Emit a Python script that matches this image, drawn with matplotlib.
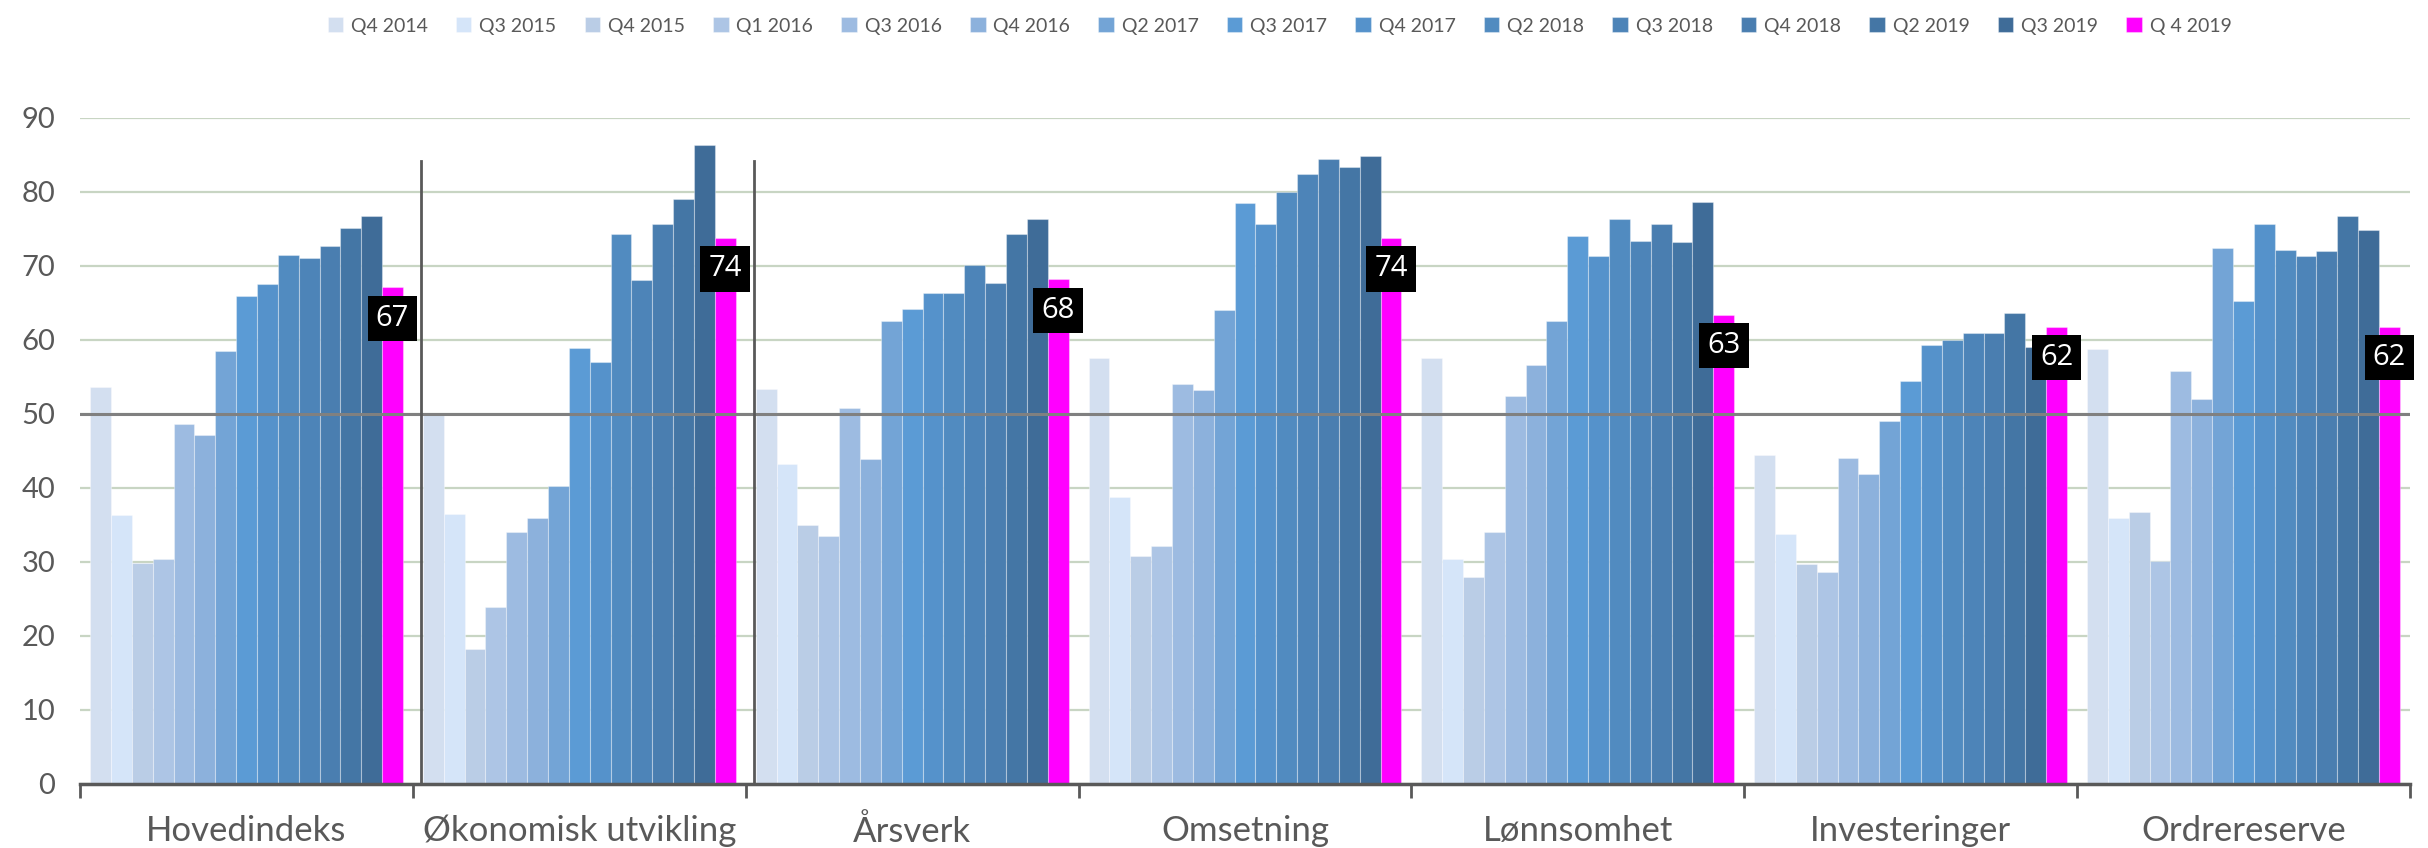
import numpy as np
import matplotlib.pyplot as plt

categories = ['Hovedindeks', 'Økonomisk utvikling', 'Årsverk', 'Omsetning',
              'Lønnsomhet', 'Investeringer', 'Ordrereserve']
periods = ['Q4 2014', 'Q3 2015', 'Q4 2015', 'Q1 2016', 'Q3 2016', 'Q4 2016', 'Q2 2017',
           'Q3 2017', 'Q4 2017', 'Q2 2018', 'Q3 2018', 'Q4 2018', 'Q2 2019', 'Q3 2019',
           'Q 4 2019']

# verdier per kategori, en per periode
hovedindeks = [53.6, 36.4, 29.9, 30.4, 48.6, 47.2, 58.5, 65.9, 67.6, 71.5, 71.0, 72.7, 75.1, 76.7, 67.1]
okonomisk = [49.9, 36.5, 18.3, 23.9, 34.1, 36.0, 40.2, 58.9, 57.0, 74.3, 68.1, 75.7, 79.1, 86.3, 73.8]
arsverk = [53.4, 43.2, 35.0, 33.5, 50.8, 43.9, 62.6, 64.2, 66.4, 66.4, 70.1, 67.7, 74.3, 76.4, 68.2]
omsetning = [57.5, 38.8, 30.8, 32.1, 54.1, 53.2, 64.1, 78.5, 75.7, 80.0, 82.4, 84.5, 83.3, 84.8, 73.8]
lonnsomhet = [57.5, 30.4, 27.9, 34.1, 52.4, 56.6, 62.6, 74.1, 71.4, 76.4, 73.4, 75.7, 73.2, 78.7, 63.4]
investeringer = [44.4, 33.8, 29.7, 28.6, 44.1, 41.9, 49.1, 54.4, 59.3, 60.0, 61.0, 61.0, 63.6, 59.0, 61.8]
ordrereserve = [58.8, 36.0, 36.8, 30.1, 55.8, 52.0, 72.4, 65.2, 75.7, 72.1, 71.4, 72.0, 76.7, 74.9, 61.8]

colors = ['#d3dff0', '#d5e5f9', '#bacde6', '#adc5e5', '#9dbbe1', '#8cb1dc', '#73a4d6',
          '#5b9bd5', '#5592cb', '#518bc0', '#4d84b8', '#4a7eb0', '#4476a5', '#3f6c98',
          '#ff00ff']

data = np.array([hovedindeks, okonomisk, arsverk, omsetning, lonnsomhet, investeringer, ordrereserve])

fig = plt.figure(figsize=(24.28, 8.48), dpi=100)
ax = fig.add_axes([0.033, 0.0755, 0.9595, 0.7855])

x = np.arange(len(categories))
n = len(periods)
w = 0.94 / n
for i in range(n):
    pos = x - 0.47 + w * (i + 0.5)
    ax.bar(pos, data[:, i], width=w, color=colors[i], label=periods[i],
           edgecolor=(1, 1, 1, 0.35), linewidth=0.8, zorder=2)
    if i == n - 1:
        for xp, v in zip(pos, data[:, i]):
            ax.text(xp, v - 4.2, str(int(round(v))), ha='center', va='center',
                    color='white', fontsize=21, family='Open Sans', zorder=5,
                    bbox=dict(boxstyle='square,pad=0.28', fc='black', ec='none'))

ax.set_ylim(0, 90)
ax.set_xlim(-0.5, len(categories) - 0.5)
ax.set_yticks(range(0, 91, 10))
ax.yaxis.grid(True, color='#c8d5c3', linewidth=1.6, zorder=0)
ax.axhline(50, color='#808080', linewidth=2.2, zorder=4)

# skillelinjer
for b in [0.525, 1.525]:
    ax.plot([b, b], [0, 84.2], color='#595959', linewidth=2, zorder=4)

ax.set_xticks(np.arange(-0.5, len(categories)), labels=[])
ax.set_xticks(x, minor=True)
ax.set_xticklabels(categories, minor=True, fontsize=25, family='Lato', color='#595959')
ax.tick_params(axis='x', which='major', length=10, width=2, color='#595959', direction='out')
ax.tick_params(axis='x', which='minor', length=0, pad=22)
ax.tick_params(axis='y', length=0, labelsize=21, labelcolor='#595959', pad=18)
for lab in ax.get_yticklabels():
    lab.set_family('Lato')

for s in ['top', 'right', 'left']:
    ax.spines[s].set_visible(False)
ax.spines['bottom'].set_color('#595959')
ax.spines['bottom'].set_linewidth(2.5)
ax.spines['bottom'].set_zorder(6)

fig.legend(loc='upper center', bbox_to_anchor=(0.527, 1.0), ncol=n, frameon=False,
           prop={'family': 'Lato', 'size': 14}, labelcolor='#595959',
           handlelength=0.8, handleheight=0.8, handletextpad=0.4, columnspacing=1.45)

fig.savefig('out.png')
